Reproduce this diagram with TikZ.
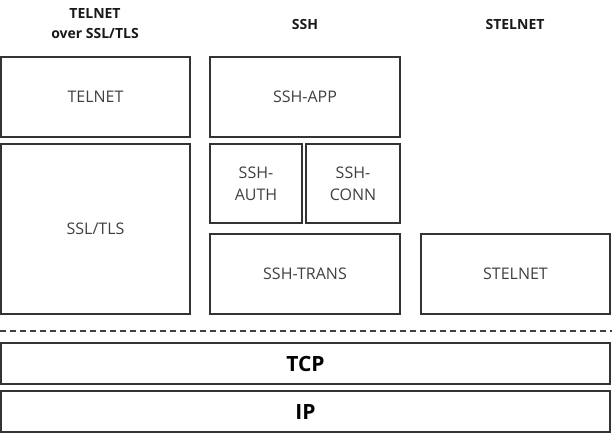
\documentclass[tikz,border=0pt]{standalone}
\usepackage{fontspec}
\setmainfont{Open Sans}
\begin{document}
\begin{tikzpicture}[x=1pt,y=-1pt,
  layer/.style={draw=black!80, line width=1.4pt, fill=white, anchor=north west, inner sep=0pt, outer sep=0pt,
    text=black!75, font=\fontsize{16}{22}\selectfont, align=center},
  base/.style={layer, text=black, font=\bfseries\fontsize{21}{24}\selectfont},
  head/.style={font=\bfseries\fontsize{14}{20}\selectfont, align=center, text=black!90}]
\useasboundingbox (0,0) rectangle (612,434);
\node[head] (h1) at (95,24) {TELNET\\over SSL/TLS};
\node[head] (h2) at (305,24) {SSH};
\node[head] (h3) at (515,24) {STELNET};
\node[layer, minimum width=189pt, minimum height=80pt] (telnet) at (1,57) {TELNET};
\node[layer, minimum width=189pt, minimum height=170pt] (ssl) at (1,144) {SSL/TLS};
\node[layer, minimum width=190pt, minimum height=80pt] (sshapp) at (210,57) {SSH-APP};
\node[layer, minimum width=92pt, minimum height=79pt] (auth) at (210,144) {SSH-\\AUTH};
\node[layer, minimum width=94pt, minimum height=79pt] (conn) at (306,144) {SSH-\\CONN};
\node[layer, minimum width=190pt, minimum height=80pt] (trans) at (210,234) {SSH-TRANS};
\node[layer, minimum width=189pt, minimum height=80pt] (stelnet) at (421,234) {STELNET};
\coordinate (dl) at (0,331);
\coordinate (dr) at (612,331);
\draw[draw=black!75, line width=1.3pt, dash pattern=on 6pt off 4pt] (dl) -- (dr);
\node[base, minimum width=609pt, minimum height=41pt] (tcp) at (1,343) {TCP};
\node[base, minimum width=609pt, minimum height=41pt] (ip) at (1,391) {IP};
\end{tikzpicture}
\end{document}
